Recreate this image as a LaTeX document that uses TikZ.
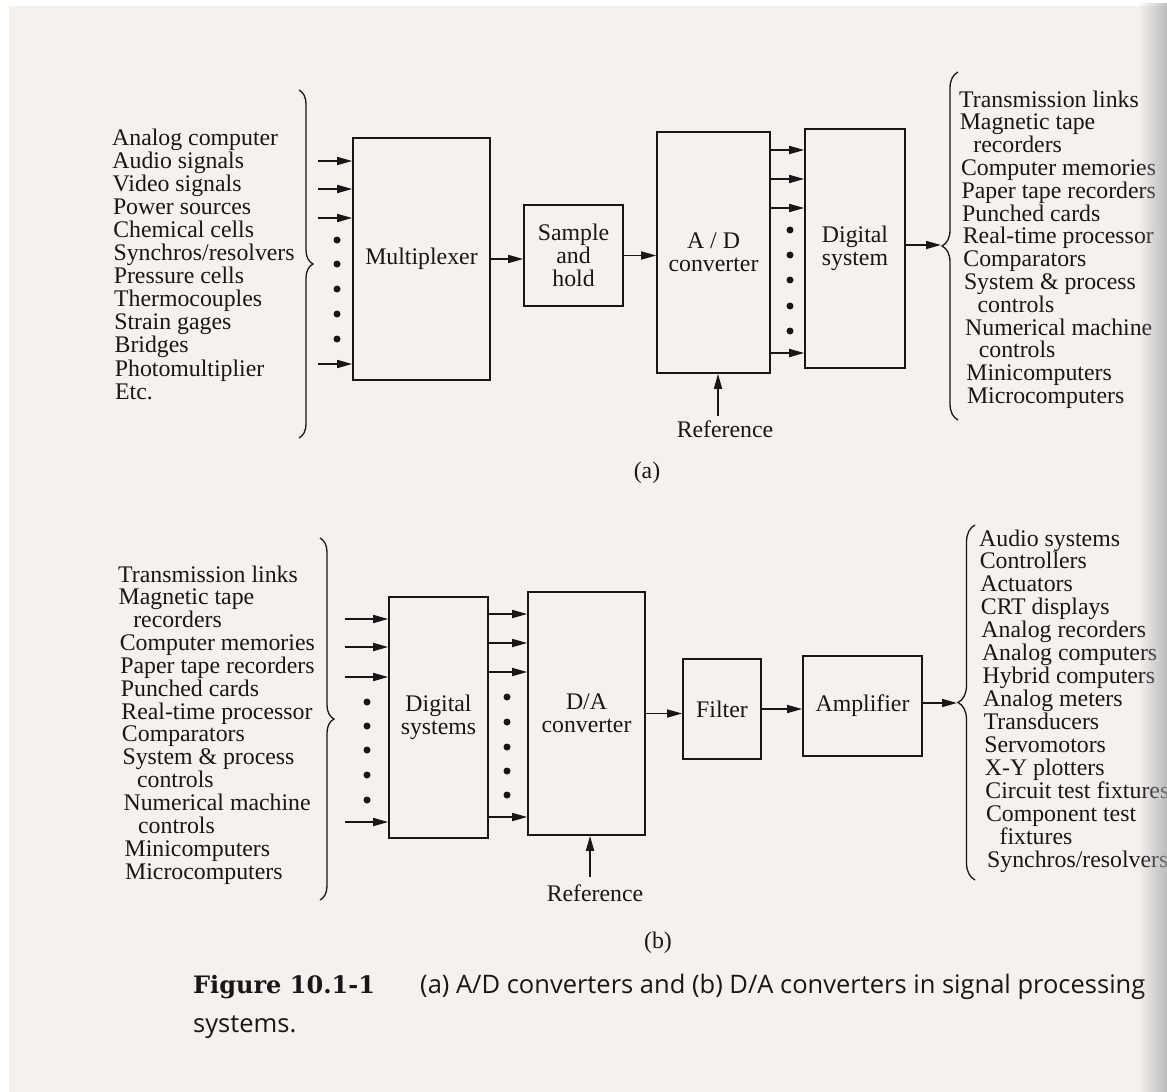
\documentclass[tikz,border=0pt]{standalone}
\usepackage{fontspec}
\setmainfont{Liberation Serif}
\newfontfamily\capsans{Open Sans}
\newfontfamily\capserif{DejaVu Serif}
\usetikzlibrary{arrows.meta,decorations.pathreplacing,fadings}
\definecolor{paper}{RGB}{244,241,239}
\definecolor{ink}{RGB}{24,22,22}
\tikzfading[name=fadetoright, left color=transparent!100, right color=transparent!0]
\begin{document}
\begin{tikzpicture}[x=1pt,y=-1pt,
  box/.style={draw=ink, line width=1.6pt, inner sep=0pt, align=center, text=ink,
              font=\fontsize{23.8}{23}\selectfont},
  lbl/.style={inner sep=0pt, anchor=base west, text=ink, font=\fontsize{23.8}{23}\selectfont},
  arr/.style={draw=ink, line width=1.6pt, -{Triangle[length=15pt,width=8pt]}},
  brc/.style={draw=ink, line width=1.3pt, decorate, decoration={brace, amplitude=14pt}},
  bigdot/.style={circle, fill=ink, inner sep=0pt, minimum size=7pt}
]
\useasboundingbox (0,0) rectangle (1167,1092);
\fill[white] (0,0) rectangle (1167,1092);
\fill[paper] (9,6) rectangle (1167,1092);

% ---------------- (a) ----------------
\foreach \t [count=\i] in {Analog computer, Audio signals, Video signals, Power sources,
  Chemical cells, Synchros/resolvers, Pressure cells, Thermocouples, Strain gages,
  Bridges, Photomultiplier, Etc.}
  \node[lbl] (inA\i) at ({112+0.27*(\i-1)}, {145+23.1*(\i-1)}) {\t};
\draw[brc] (299,90) -- (299,438);

\node[box, minimum width=137pt, minimum height=242pt] (mux) at (421.5,259) {Multiplexer};
\node[box, minimum width=99pt, minimum height=101pt] (sh) at (573.5,255.5) {Sample\\and\\hold};
\node[box, minimum width=113pt, minimum height=241pt] (ad) at (713.5,252.5) {A / D\\converter};
\node[box, minimum width=100pt, minimum height=239pt] (ds) at (855,248.5) {Digital\\system};

\foreach \y [count=\k] in {161,189,218,364} {
  \coordinate (ia\k) at (318,\y);
  \draw[arr] (ia\k) -- (ia\k -| mux.west);
}
\foreach \y [count=\k] in {240,264,289,314,339}
  \node[bigdot] (da\k) at (337,\y) {};

\draw[arr] (mux.east) -- (mux.east -| sh.west);
\draw[arr] (sh.east) -- (sh.east -| ad.west);

\foreach \y [count=\k] in {150,179,208,353} {
  \coordinate (ao\k) at (0,\y);
  \draw[arr] (ao\k -| ad.east) -- (ao\k -| ds.west);
}
\foreach \y [count=\k] in {230,255,280,306,331}
  \node[bigdot] (db\k) at (790,\y) {};

\coordinate (tipA) at (941,245);
\draw[arr] (tipA -| ds.east) -- (tipA);
\draw[brc, decoration={brace, amplitude=16pt}] (958,420) -- (958,72);

\foreach \t [count=\i] in {Transmission links, Magnetic tape, \hspace*{13pt}recorders,
  Computer memories, Paper tape recorders, Punched cards, Real-time processor,
  Comparators, System \& process, \hspace*{13pt}controls, Numerical machine,
  \hspace*{13pt}controls, Minicomputers, Microcomputers}
  \node[lbl] (outA\i) at ({959+0.6*(\i-1)}, {107+22.8*(\i-1)}) {\t};

\coordinate (ra) at (718,416);
\draw[arr] (ra) -- (ra |- ad.south);
\node[lbl, anchor=center] (refA) at (725,429) {Reference};
\node[lbl, anchor=center] (capA) at (647,473) {(a)};

% ---------------- (b) ----------------
\foreach \t [count=\i] in {Transmission links, Magnetic tape, \hspace*{14pt}recorders,
  Computer memories, Paper tape recorders, Punched cards, Real-time processor,
  Comparators, System \& process, \hspace*{14pt}controls, Numerical machine,
  \hspace*{14pt}controls, Minicomputers, Microcomputers}
  \node[lbl] (inB\i) at ({118+0.54*(\i-1)}, {582+22.85*(\i-1)}) {\t};
\draw[brc] (320,538) -- (320,900);

\node[box, minimum width=99pt, minimum height=241pt] (dsb) at (438.5,717.5) {Digital\\systems};
\node[box, minimum width=117pt, minimum height=243pt] (dac) at (586.5,713.5) {D/A\\converter};
\node[box, minimum width=78pt, minimum height=100pt] (filt) at (722,709) {Filter};
\node[box, minimum width=119pt, minimum height=100pt] (amp) at (862.5,706) {Amplifier};

\foreach \y [count=\k] in {619,647,677,822} {
  \coordinate (ib\k) at (345,\y);
  \draw[arr] (ib\k) -- (ib\k -| dsb.west);
}
\foreach \y [count=\k] in {702,726,750,775,800}
  \node[bigdot] (dc\k) at (367,\y) {};

\foreach \y [count=\k] in {614,643,672,817} {
  \coordinate (bo\k) at (0,\y);
  \draw[arr] (bo\k -| dsb.east) -- (bo\k -| dac.west);
}
\foreach \y [count=\k] in {697,722,747,771,795}
  \node[bigdot] (dd\k) at (507,\y) {};

\draw[arr] (dac.east) -- (dac.east -| filt.west);
\draw[arr] (filt.east) -- (filt.east -| amp.west);

\coordinate (tipB) at (957,703);
\draw[arr] (tipB -| amp.east) -- (tipB);
\draw[brc, decoration={brace, amplitude=17pt}] (975,880) -- (975,525);

\foreach \t [count=\i] in {Audio systems, Controllers, Actuators, CRT displays,
  Analog recorders, Analog computers, Hybrid computers, Analog meters, Transducers,
  Servomotors, X-Y plotters, Circuit test fixtures, Component test,
  \hspace*{13pt}fixtures, Synchros/resolvers}
  \node[lbl] (outB\i) at ({979+0.57*(\i-1)}, {546+22.93*(\i-1)}) {\t};

\coordinate (rb) at (590,877);
\draw[arr] (rb) -- (rb |- dac.south);
\node[lbl, anchor=center] (refB) at (595,893) {Reference};
\node[lbl, anchor=center] (capB) at (658,943) {(b)};

% ---------------- caption ----------------
\node[inner sep=0pt, anchor=base west, text=ink, font=\capserif\bfseries\fontsize{24}{28}\selectfont]
  (figno) at (193,993) {Figure 10.1-1};
\node[inner sep=0pt, anchor=base west, text=ink, font=\capsans\fontsize{25.5}{28}\selectfont]
  (captxt) at (420,993) {(a) A/D converters and (b) D/A converters in signal processing};
\node[inner sep=0pt, anchor=base west, text=ink, font=\capsans\fontsize{25.5}{28}\selectfont]
  (capl2) at (193,1032) {systems.};

% page shadow at the right edge
\fill[black!35, path fading=fadetoright, fill opacity=0.7] (1138,0) rectangle (1167,1092);
\end{tikzpicture}
\end{document}
